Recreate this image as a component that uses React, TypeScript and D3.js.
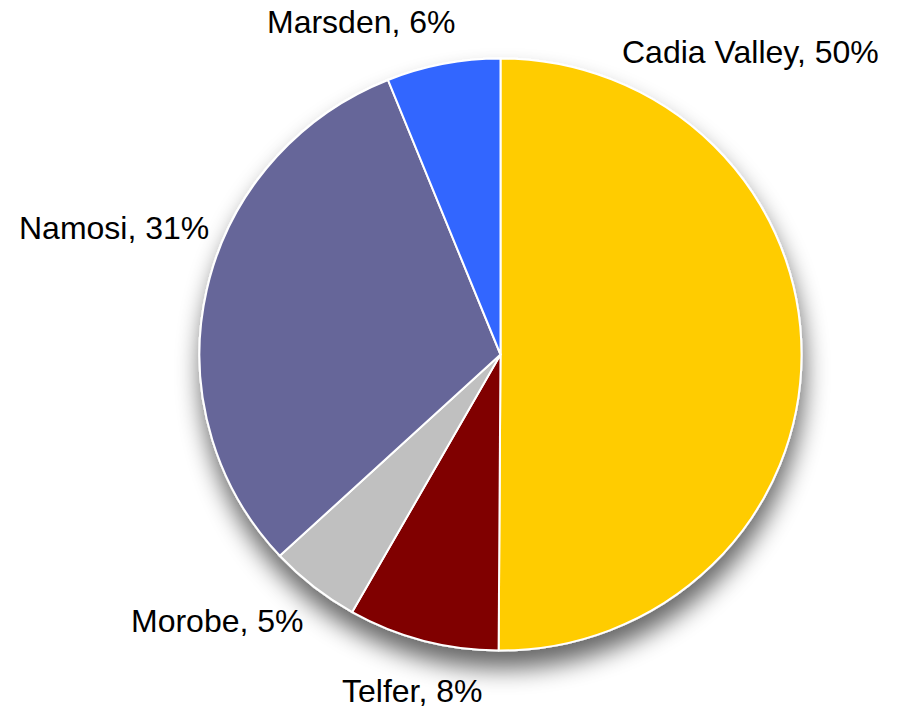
import React from "react";
import * as d3 from "d3";

const categories = ["Cadia Valley", "Telfer", "Morobe", "Namosi", "Marsden"];
const values = [50.1, 8.1, 4.9, 30.8, 6.1];
const colors = ["#FFCC00", "#800000", "#C0C0C0", "#666699", "#3366FF"];
// label layout (left x, baseline y)
const labelPos: [number, number][] = [
  [622, 63],
  [342, 702],
  [131, 632],
  [19, 239],
  [267, 33],
];

const W = 901;
const H = 708;
const CX = 500.5;
const CY = 354.5;
const RY = 296;
const SX = 301 / 296;

export default function App() {
  const total = d3.sum(values);
  const pie = d3
    .pie<number>()
    .sort(null)
    .value((d) => d)
    .startAngle(0)
    .endAngle(2 * Math.PI);
  const arcs = pie(values);
  const arc = d3.arc<d3.PieArcDatum<number>>().innerRadius(0).outerRadius(RY);

  return (
    <svg
      width={W}
      height={H}
      style={{ position: "absolute", left: 0, top: 0, background: "#fff" }}
    >
      <defs>
        <filter id="shadow" x="-20%" y="-20%" width="140%" height="150%">
          <feGaussianBlur in="SourceAlpha" stdDeviation="12" />
          <feOffset dx="2" dy="17" result="blur" />
          <feComponentTransfer>
            <feFuncA type="linear" slope="0.6" />
          </feComponentTransfer>
          <feMerge>
            <feMergeNode />
            <feMergeNode in="SourceGraphic" />
          </feMerge>
        </filter>
      </defs>
      <g transform={`translate(${CX},${CY}) scale(${SX},1)`}>
        <g filter="url(#shadow)">
          {arcs.map((a, i) => (
            <path
              key={categories[i]}
              d={arc(a) || ""}
              fill={colors[i]}
              stroke="#fff"
              strokeWidth={2}
              strokeLinejoin="round"
              vectorEffect="non-scaling-stroke"
            />
          ))}
        </g>
      </g>
      {categories.map((c, i) => (
        <text
          key={c}
          x={labelPos[i][0]}
          y={labelPos[i][1]}
          fontFamily="'Liberation Sans', Arial, sans-serif"
          fontSize={32}
          fill="#000"
        >
          {`${c}, ${Math.round((values[i] / total) * 100)}%`}
        </text>
      ))}
    </svg>
  );
}
